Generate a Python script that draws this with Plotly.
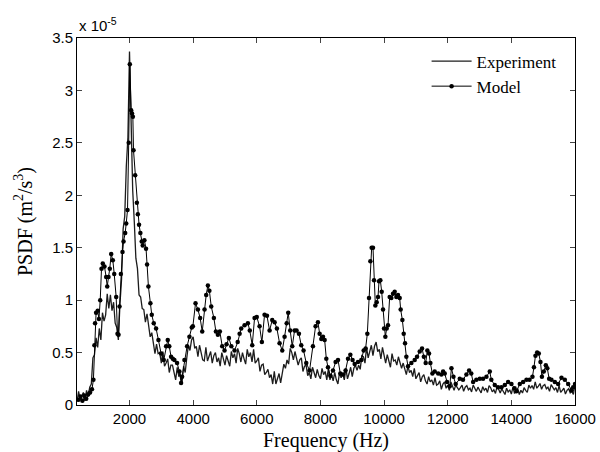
import numpy as np
import plotly.graph_objects as go

# Experiment PSDF (units of 1e-5 m^2/s^3), sampled every 50 Hz from 350 Hz to 16000 Hz
exp_freq = np.arange(350, 16001, 50)
exp_psd = [
    0.03, 0.13, 0.05, 0.09, 0.12, 0.04, 0.14, 0.08, 0.17, 0.20, 0.45, 0.48, 0.64, 0.55, 0.73, 0.62, 0.88, 0.80, 0.86, 1.06,
    0.92, 1.05, 0.90, 0.98, 0.78, 0.74, 0.62, 0.96, 1.20, 1.68, 1.80, 2.28, 2.55, 3.37, 2.62, 2.05, 1.75, 1.40, 1.30, 1.05,
    1.03, 0.92, 0.91, 0.79, 0.87, 0.77, 0.65, 0.69, 0.58, 0.49, 0.58, 0.49, 0.50, 0.40, 0.51, 0.37, 0.40, 0.44, 0.31, 0.38,
    0.38, 0.31, 0.24, 0.36, 0.27, 0.30, 0.21, 0.37, 0.31, 0.45, 0.57, 0.52, 0.62, 0.65, 0.54, 0.56, 0.46, 0.57, 0.50, 0.43,
    0.42, 0.55, 0.42, 0.46, 0.51, 0.40, 0.47, 0.50, 0.41, 0.45, 0.37, 0.50, 0.45, 0.38, 0.47, 0.41, 0.37, 0.51, 0.45, 0.49,
    0.40, 0.54, 0.49, 0.41, 0.50, 0.44, 0.39, 0.53, 0.46, 0.50, 0.41, 0.53, 0.40, 0.42, 0.45, 0.32, 0.38, 0.39, 0.29, 0.31,
    0.34, 0.26, 0.29, 0.20, 0.32, 0.20, 0.24, 0.30, 0.21, 0.32, 0.39, 0.35, 0.43, 0.39, 0.54, 0.50, 0.43, 0.51, 0.44, 0.38,
    0.43, 0.45, 0.32, 0.37, 0.38, 0.28, 0.31, 0.25, 0.36, 0.32, 0.26, 0.34, 0.28, 0.25, 0.35, 0.29, 0.32, 0.24, 0.35, 0.24,
    0.29, 0.23, 0.31, 0.24, 0.20, 0.31, 0.26, 0.30, 0.24, 0.35, 0.25, 0.30, 0.36, 0.27, 0.35, 0.38, 0.33, 0.38, 0.34, 0.47,
    0.46, 0.40, 0.55, 0.45, 0.50, 0.57, 0.47, 0.56, 0.60, 0.51, 0.53, 0.44, 0.55, 0.48, 0.40, 0.48, 0.42, 0.36, 0.49, 0.42,
    0.43, 0.38, 0.46, 0.41, 0.35, 0.40, 0.34, 0.29, 0.37, 0.31, 0.33, 0.27, 0.35, 0.25, 0.28, 0.31, 0.22, 0.27, 0.29, 0.23,
    0.20, 0.27, 0.22, 0.24, 0.19, 0.26, 0.19, 0.20, 0.23, 0.15, 0.20, 0.22, 0.16, 0.19, 0.14, 0.22, 0.18, 0.14, 0.19, 0.16,
    0.145, 0.165, 0.19, 0.13, 0.17, 0.185, 0.145, 0.16, 0.125, 0.19, 0.16, 0.13, 0.17, 0.14, 0.115, 0.175, 0.14, 0.16, 0.12, 0.185,
    0.165, 0.125, 0.145, 0.11, 0.175, 0.15, 0.115, 0.155, 0.125, 0.10, 0.16, 0.125, 0.145, 0.105, 0.17, 0.11, 0.13, 0.155, 0.10, 0.14,
    0.115, 0.165, 0.14, 0.12, 0.19, 0.16, 0.185, 0.15, 0.22, 0.16, 0.18, 0.205, 0.15, 0.185, 0.195, 0.155, 0.17, 0.13, 0.195, 0.165,
    0.145, 0.165, 0.12, 0.185, 0.12, 0.14, 0.16, 0.105, 0.14, 0.155, 0.115, 0.13, 0.10, 0.20,
]

# Model PSDF (units of 1e-5 m^2/s^3)
model_freq = [
    400, 460, 520, 580, 640, 700, 760, 820, 866, 897, 918, 950, 1000, 1040, 1080, 1120, 1160, 1214, 1266, 1300,
    1340, 1380, 1424, 1476, 1520, 1581, 1623, 1655, 1686, 1728, 1780, 1812, 1864, 1896, 1938, 1975, 2010, 2052, 2080, 2105,
    2126, 2178, 2231, 2262, 2300, 2342, 2384, 2415, 2468, 2520, 2552, 2594, 2657, 2699, 2762, 2835, 2909, 2993, 3077, 3150,
    3202, 3250, 3306, 3360, 3411, 3495, 3569, 3621, 3653, 3726, 3810, 3883, 3957, 3991, 4075, 4150, 4220, 4285, 4358, 4410,
    4463, 4510, 4568, 4652, 4715, 4777, 4840, 4913, 4987, 5050, 5123, 5200, 5301, 5400, 5460, 5511, 5616, 5720, 5780, 5857,
    5930, 6000, 6087, 6160, 6244, 6320, 6402, 6485, 6560, 6632, 6716, 6800, 6873, 6940, 6988, 7050, 7114, 7187, 7250, 7324,
    7397, 7470, 7554, 7659, 7764, 7848, 7921, 7975, 8028, 8080, 8133, 8185, 8237, 8311, 8395, 8478, 8552, 8625, 8709, 8790,
    8866, 8940, 9010, 9076, 9181, 9285, 9359, 9420, 9474, 9527, 9569, 9610, 9652, 9684, 9726, 9768, 9810, 9841, 9883, 9925,
    9967, 9998, 10040, 10082, 10124, 10176, 10228, 10281, 10333, 10386, 10438, 10491, 10522, 10575, 10617, 10659, 10700, 10753, 10858, 10962,
    11036, 11120, 11193, 11250, 11308, 11360, 11413, 11455, 11518, 11591, 11700, 11801, 11855, 11906, 11979, 12063, 12117, 12180, 12250, 12379,
    12480, 12588, 12672, 12740, 12798, 12900, 13008, 13111, 13217, 13322, 13370, 13479, 13580, 13689, 13794, 13898, 14003, 14100, 14160, 14265,
    14370, 14475, 14570, 14663, 14710, 14758, 14810, 14862, 14915, 14960, 15020, 15083, 15130, 15187, 15260, 15366, 15470, 15575, 15680, 15785,
    15890, 15942, 16000,
]
model_psd = [
    0.05, 0.08, 0.04, 0.09, 0.06, 0.10, 0.12, 0.15, 0.24, 0.57, 0.78, 0.88, 0.90, 0.82, 1.00, 1.30, 1.35, 1.32, 1.22, 1.13,
    1.22, 1.30, 1.44, 1.38, 1.25, 1.03, 0.68, 0.67, 0.94, 1.25, 1.46, 1.56, 1.64, 1.73, 1.86, 2.50, 3.25, 2.81, 2.78, 2.75,
    2.43, 2.19, 1.93, 1.82, 1.72, 1.64, 1.56, 1.52, 1.57, 1.49, 1.34, 1.13, 0.97, 0.86, 0.78, 0.73, 0.62, 0.49, 0.43, 0.56,
    0.62, 0.56, 0.46, 0.44, 0.43, 0.40, 0.32, 0.21, 0.27, 0.43, 0.56, 0.65, 0.74, 0.75, 0.97, 0.91, 0.83, 0.70, 0.91, 1.05,
    1.14, 1.09, 0.94, 0.83, 0.70, 0.67, 0.70, 0.56, 0.52, 0.58, 0.64, 0.56, 0.52, 0.60, 0.68, 0.73, 0.76, 0.78, 0.71, 0.57,
    0.83, 0.84, 0.75, 0.60, 0.86, 0.85, 0.71, 0.81, 0.79, 0.73, 0.59, 0.52, 0.65, 0.78, 0.88, 0.71, 0.56, 0.71, 0.71, 0.68,
    0.57, 0.52, 0.40, 0.33, 0.56, 0.75, 0.79, 0.68, 0.63, 0.65, 0.62, 0.44, 0.36, 0.28, 0.33, 0.41, 0.43, 0.30, 0.29, 0.33,
    0.44, 0.48, 0.43, 0.39, 0.41, 0.43, 0.52, 0.54, 0.68, 1.02, 1.37, 1.50, 1.50, 1.19, 0.95, 0.98, 1.03, 1.18, 1.19, 1.08,
    0.91, 0.73, 0.65, 0.73, 0.76, 1.03, 1.02, 1.06, 1.08, 1.03, 1.05, 1.02, 0.91, 0.81, 0.68, 0.59, 0.46, 0.37, 0.40, 0.43,
    0.46, 0.51, 0.54, 0.46, 0.40, 0.52, 0.49, 0.40, 0.30, 0.32, 0.30, 0.29, 0.32, 0.30, 0.22, 0.18, 0.35, 0.27, 0.20, 0.25,
    0.24, 0.29, 0.33, 0.30, 0.22, 0.24, 0.25, 0.25, 0.27, 0.32, 0.24, 0.19, 0.17, 0.17, 0.19, 0.22, 0.20, 0.16, 0.13, 0.20,
    0.22, 0.24, 0.24, 0.27, 0.36, 0.47, 0.50, 0.49, 0.41, 0.27, 0.32, 0.38, 0.35, 0.25, 0.24, 0.22, 0.20, 0.26, 0.24, 0.20,
    0.14, 0.17, 0.20,
]

x_ticks = [2000, 4000, 6000, 8000, 10000, 12000, 14000, 16000]
x_tick_labels = ["2000", "4000", "6000", "8000", "10000", "12000", "14000", "16000"]
y_ticks = [0, 0.5, 1, 1.5, 2, 2.5, 3, 3.5]
y_tick_labels = ["0", "0.5", "1", "1.5", "2", "2.5", "3", "3.5"]

fig = go.Figure()
fig.add_trace(go.Scatter(
    x=exp_freq, y=exp_psd, mode="lines", name="Experiment",
    line=dict(color="#1c1c1c", width=1.3),
))
fig.add_trace(go.Scatter(
    x=model_freq, y=model_psd, mode="lines+markers", name="Model",
    line=dict(color="black", width=1),
    marker=dict(color="black", size=4.5, symbol="circle"),
))

tick_font = dict(family="Liberation Sans, Arial, sans-serif", size=15, color="black")
serif = "Liberation Serif, Times New Roman, serif"

fig.update_layout(
    width=600, height=452,
    margin=dict(l=77, r=25, t=38, b=47),
    paper_bgcolor="white", plot_bgcolor="white",
    showlegend=True,
    legend=dict(
        x=0.702, y=0.985, xanchor="left", yanchor="top",
        bgcolor="rgba(0,0,0,0)", borderwidth=0,
        font=dict(family=serif, size=17, color="black"),
        tracegroupgap=0, itemwidth=40,
    ),
    xaxis=dict(
        range=[350, 16000], tickvals=x_ticks, ticktext=x_tick_labels, ticks="inside", ticklen=5,
        showline=True, linecolor="black", linewidth=1, mirror="ticks",
        showgrid=False, zeroline=False, tickfont=tick_font, automargin=False,
        title=dict(text="Frequency (Hz)", font=dict(family=serif, size=20, color="black"), standoff=8),
    ),
    yaxis=dict(
        range=[0, 3.5], tickvals=y_ticks, ticktext=y_tick_labels, ticks="inside", ticklen=5,
        showline=True, linecolor="black", linewidth=1, mirror="ticks",
        showgrid=False, zeroline=False, tickfont=tick_font, automargin=False,
        title=dict(text="PSDF (m<sup>2</sup>/s<sup>3</sup>)", font=dict(family=serif, size=20, color="black"), standoff=14),
    ),
)
fig.add_annotation(
    x=0, y=1, xref="paper", yref="paper", xanchor="left", yanchor="bottom",
    text="x 10<sup>-5</sup>", showarrow=False, yshift=2,
    font=dict(family="Liberation Sans, Arial, sans-serif", size=15, color="black"),
)

fig.write_html("out.html")
